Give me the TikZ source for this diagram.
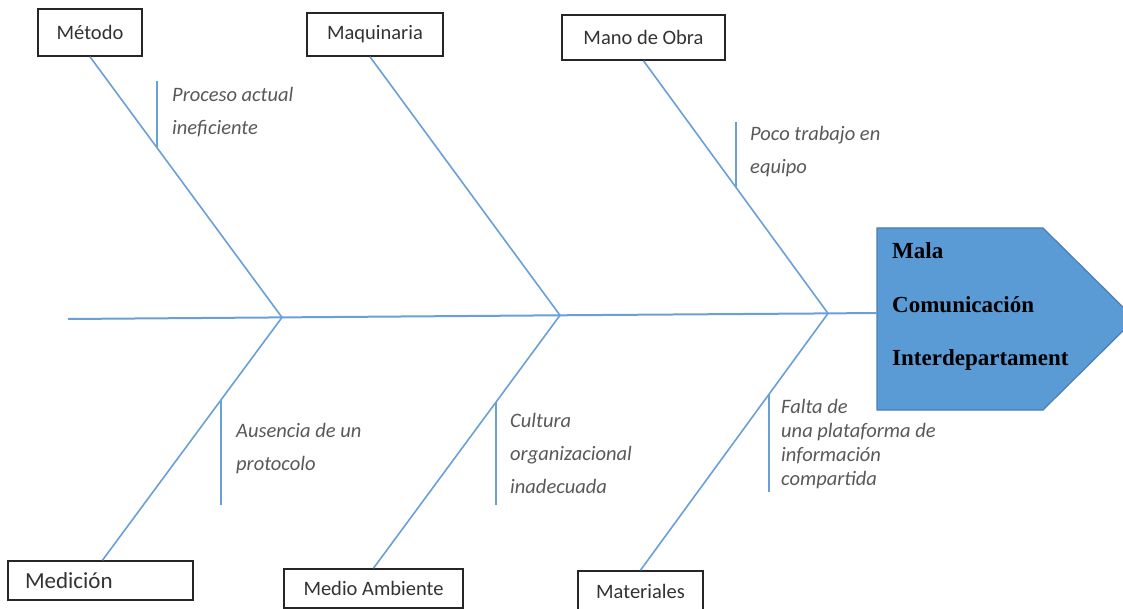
\documentclass[tikz,border=0pt]{standalone}
\usepackage{fontspec}
\setmainfont{Carlito}
\newfontfamily\effectfont{Liberation Serif}
\usetikzlibrary{calc}
\definecolor{bone}{HTML}{6A9FD8}
\definecolor{headfill}{HTML}{5B9BD5}
\definecolor{headdraw}{HTML}{4A7EB5}
\definecolor{labelgray}{HTML}{333333}
\definecolor{causegray}{HTML}{595959}

\begin{document}
\begin{tikzpicture}[x=1pt,y=-1pt,
  catbox/.style={draw=black!85, line width=1.6pt, fill=white, text=labelgray,
    font=\fontsize{20.5}{24}\selectfont, inner sep=0pt},
  bone/.style={draw=bone, line width=1.6pt},
  subbone/.style={draw=bone, line width=2pt},
  cause/.style={anchor=base west, inner sep=0pt, text=causegray,
    font=\itshape\fontsize{20.5}{33}\selectfont},
  effecttext/.style={anchor=base west, inner sep=0pt, text=black,
    font=\effectfont\bfseries\fontsize{23}{53.5}\selectfont}]

% canvas
\useasboundingbox (0,0) rectangle (1123,609);
\clip (0,0) rectangle (1123,609);
\fill[white] (0,0) rectangle (1123,609);

% category boxes
\node[catbox, minimum width=104, minimum height=47] (metodo) at (90,32.5) {Método};
\node[catbox, minimum width=136, minimum height=43] (maq) at (375,34.5) {Maquinaria};
\node[catbox, minimum width=163, minimum height=45] (mano) at (643.5,37.5) {Mano de Obra};
\node[catbox, text width=151, inner xsep=17, minimum height=39, align=left,
      font=\fontsize{23}{26}\selectfont] (medicion) at (100.5,580.5) {Medición};
\node[catbox, minimum width=179, minimum height=39] (medio) at (373.5,588.5) {Medio Ambiente};
\node[catbox, minimum width=125, minimum height=41] (materiales) at (640.5,591.5) {Materiales};

% spine junctions
\coordinate (tail) at (68,319);
\coordinate (J1) at (282,317.4);
\coordinate (J2) at (560,315.3);
\coordinate (J3) at (828,313.4);
\coordinate (headL) at (877,313);

% effect head
\draw[headdraw, line width=1.2pt, fill=headfill]
  (877,228) -- (1043,228) -- (1135,319) -- (1043,410) -- (877,410) -- cycle;
\node[effecttext] (effect) at (892,259)
  {\begin{tabular}[t]{@{}l@{}}Mala\\ Comunicación\\ Interdepartament\end{tabular}};

% spine
\draw[bone, line width=2pt] (tail) -- (J1) -- (J2) -- (J3) -- (headL);

% main bones
\draw[bone] (metodo.south) -- (J1);
\draw[bone] ([xshift=-5pt]maq.south) -- (J2);
\draw[bone] (mano.south) -- (J3);
\draw[bone] ([xshift=2pt]medicion.north) -- (J1);
\draw[bone] (medio.north) -- (J2);
\draw[bone] (materiales.north) -- (J3);

% cause ticks
\draw[subbone] ($(metodo.south)!0.349!(J1)$) -- ++(0,-67);
\draw[subbone] ($(mano.south)!0.501!(J3)$) -- ++(0,-65);
\draw[subbone] ($([xshift=2pt]medicion.north)!0.66!(J1)$) -- ++(0,105);
\draw[subbone] ($(medio.north)!0.657!(J2)$) -- ++(0,103);
\draw[subbone] ($(materiales.north)!0.685!(J3)$) -- ++(0,98);

% causes
\node[cause] (c1) at (172,102)
  {\begin{tabular}[t]{@{}l@{}}Proceso actual\\ ineficiente\end{tabular}};
\node[cause] (c2) at (750,141)
  {\begin{tabular}[t]{@{}l@{}}Poco trabajo en\\ equipo\end{tabular}};
\node[cause] (c3) at (236,437)
  {\begin{tabular}[t]{@{}l@{}}Ausencia de un\\ protocolo\end{tabular}};
\node[cause] (c4) at (510,427)
  {\begin{tabular}[t]{@{}l@{}}Cultura\\ organizacional\\ inadecuada\end{tabular}};
\node[cause, font=\itshape\fontsize{20.5}{24}\selectfont] (c5) at (781,413)
  {\begin{tabular}[t]{@{}l@{}}Falta de\\ una plataforma de\\ información\\ compartida\end{tabular}};
\end{tikzpicture}
\end{document}
